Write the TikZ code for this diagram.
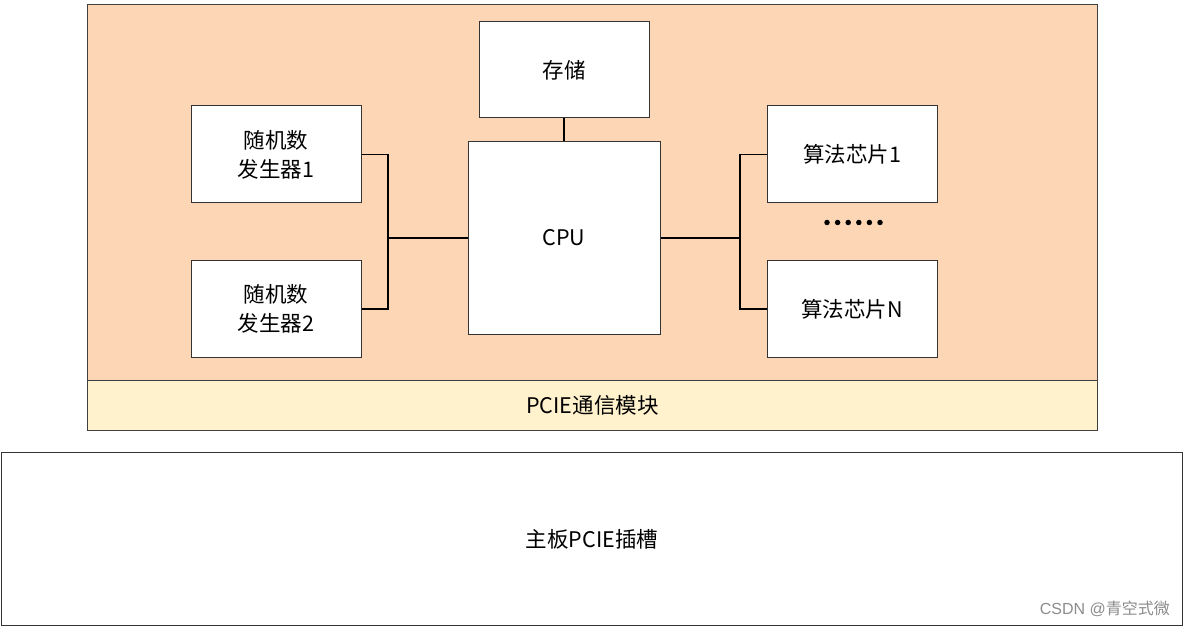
\documentclass[tikz,border=0pt]{standalone}
\usepackage{fontspec}
\setmainfont{Liberation Serif}
\newfontfamily\cjk{Noto Sans CJK SC}
\newfontfamily\wm{Liberation Sans}
\definecolor{peach}{RGB}{252,214,181}
\definecolor{cream}{RGB}{255,242,204}
\definecolor{wmgray}{RGB}{140,140,140}
\begin{document}
\begin{tikzpicture}[x=1pt,y=-1pt,
  blk/.style={draw=black!80,line width=1pt,fill=white,inner sep=0pt,align=center,font=\cjk\fontsize{21.5}{29}\selectfont},
  wire/.style={draw=black,line width=1.4pt},
  dot/.style={fill=black,circle,inner sep=0pt,minimum size=5.5pt}]
\useasboundingbox (0,0) rectangle (1185,628);
% outer module
\draw[draw=black!75,line width=1pt,fill=peach] (87,5) rectangle (1097,380);
\node[draw=black!75,line width=1pt,fill=cream,minimum width=1010pt,minimum height=50pt,inner sep=0pt,anchor=north west,font=\cjk\fontsize{21.5}{24}\selectfont] (pcie) at (87,380) {PCIE通信模块};
% main board
\node[draw=black!80,line width=1pt,minimum width=1181pt,minimum height=173pt,inner sep=0pt,anchor=north west,font=\cjk\fontsize{21.5}{24}\selectfont] (board) at (1,452) {主板PCIE插槽};
% blocks
\node[blk,minimum width=170pt,minimum height=96pt] (mem) at (564,70) {存储};
\node[blk,minimum width=192pt,minimum height=192pt] (cpu) at (564,238) {CPU};
\node[blk,minimum width=170pt,minimum height=97pt] (rng1) at (276,154.5) {随机数\\发生器1};
\node[blk,minimum width=170pt,minimum height=96pt] (rng2) at (276,309) {随机数\\发生器2};
\node[blk,minimum width=170pt,minimum height=97pt] (alg1) at (852,154.5) {算法芯片1};
\node[blk,minimum width=170pt,minimum height=96pt] (algn) at (852,309) {算法芯片N};
\foreach \i in {0,...,5} \node[dot] (d\i) at (827+\i*10.6,222.5) {};
% connections
\coordinate (lj) at (388,238);
\coordinate (rj) at (740,238);
\draw[wire] (mem.south) -- (cpu.north);
\draw[wire] (rng1.east) -| (lj) |- (rng2.east);
\draw[wire] (lj) -- (cpu.west);
\draw[wire] (alg1.west) -| (rj) |- (algn.west);
\draw[wire] (rj) -- (cpu.east);
% watermark
\node[font=\wm\fontsize{16}{18}\selectfont,text=wmgray,anchor=east,inner sep=0pt] (wmk) at (1170,609) {CSDN @{\cjk 青空式微}};
\end{tikzpicture}
\end{document}
